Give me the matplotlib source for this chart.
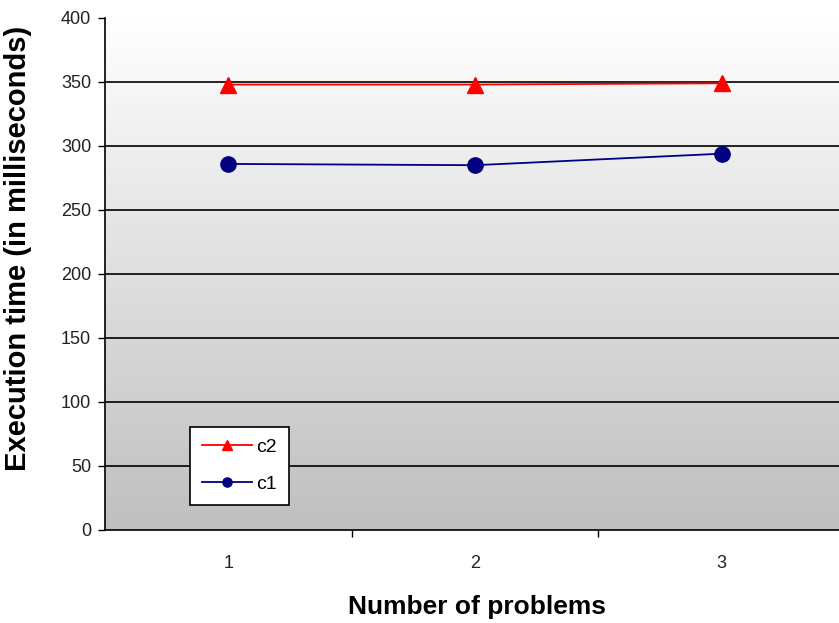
import numpy as np
import matplotlib.pyplot as plt
from matplotlib.colors import LinearSegmentedColormap

problems = [1, 2, 3]
c2_times = [348, 348, 349]
c1_times = [286, 285, 294]
y_ticks = [0, 50, 100, 150, 200, 250, 300, 350, 400]

plt.rcParams["font.family"] = ["Liberation Sans", "DejaVu Sans"]

fig = plt.figure(figsize=(8.39, 6.23), dpi=100)
ax = fig.add_axes([105 / 839, 93 / 623, 740 / 839, 512 / 623])

# gradient background, white at top to grey at bottom
grad = np.linspace(0, 1, 256).reshape(-1, 1)
bg = LinearSegmentedColormap.from_list("bg", ["#ffffff", "#bfbfbf"])
ax.imshow(grad, extent=(0.5, 3.5, 0, 400), aspect="auto", origin="upper", cmap=bg, zorder=0)

for y in y_ticks[1:-1]:
    ax.axhline(y, color="black", lw=1.2, zorder=1)

ax.plot(problems, c2_times, color="#ff0000", lw=1.3, marker="^", markersize=12,
        markerfacecolor="#ff0000", markeredgecolor="#ff0000", label="c2", zorder=3)
ax.plot(problems, c1_times, color="#000080", lw=1.3, marker="o", markersize=11,
        markerfacecolor="#000080", markeredgecolor="#000080", label="c1", zorder=3)

ax.set_xlim(0.5, 3.5)
ax.set_ylim(0, 400)
ax.set_yticks(y_ticks)
ax.set_xticks([1.5, 2.5])
ax.set_xticklabels([])
ax.set_xticks(problems, minor=True)
ax.set_xticklabels([str(p) for p in problems], minor=True)
ax.tick_params(axis="x", which="minor", length=0, pad=18, labelsize=13, labelcolor="#222222")
ax.tick_params(axis="x", which="major", length=5, width=1, direction="out")
ax.tick_params(axis="y", length=5, width=1, direction="out", labelsize=13, pad=5,
               labelcolor="#222222")

for side in ["top", "right"]:
    ax.spines[side].set_visible(False)
ax.spines["left"].set_linewidth(1.2)
ax.spines["bottom"].set_linewidth(1.2)

ax.set_xlabel("Number of problems", fontsize=19, fontweight="bold")
ax.set_ylabel("Execution time (in milliseconds)", fontsize=21, fontweight="bold")
ax.xaxis.set_label_coords(0.503, -0.127)
ax.yaxis.set_label_coords(-0.099, 0.551)

leg = ax.legend(loc="lower left", bbox_to_anchor=(0.115, 0.049), frameon=True,
                fancybox=False, edgecolor="black", fontsize=14, handlelength=2.6,
                markerscale=0.6, borderpad=0.6, labelspacing=1.0, handletextpad=0.2,
                borderaxespad=0)
leg.get_frame().set_linewidth(1.2)
leg.get_frame().set_facecolor("white")
leg.get_frame().set_alpha(1)

fig.savefig("out.png", dpi=100)
